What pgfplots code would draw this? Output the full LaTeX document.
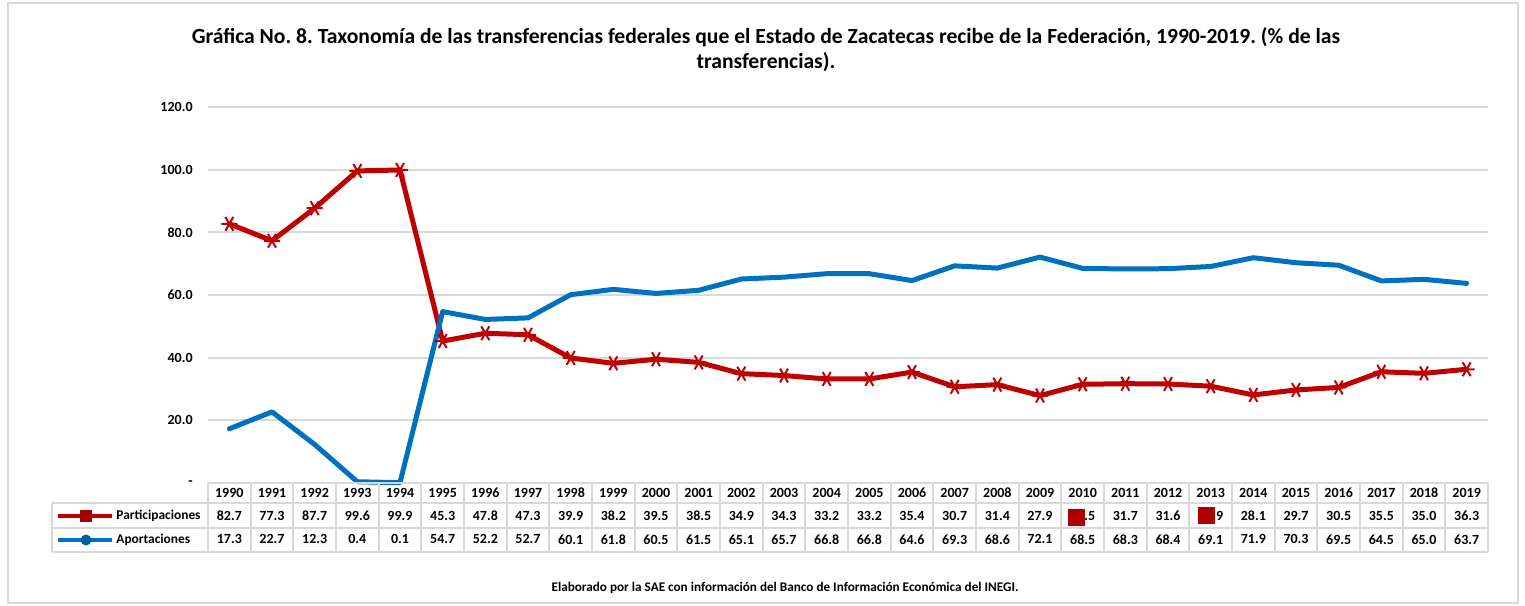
\documentclass[border=0pt]{standalone}
\usepackage{pgfplots}
\pgfplotsset{compat=1.18}
\usepackage{pgfplotstable}
\usepackage{fontspec}
\setmainfont{Carlito}
\frenchspacing
\definecolor{pred}{HTML}{C00000}
\definecolor{ablue}{HTML}{0070C0}
\definecolor{gridc}{HTML}{D9D9D9}

\pgfplotstableread{
year P A
1990 82.7 17.3
1991 77.3 22.7
1992 87.7 12.3
1993 99.6 0.4
1994 99.9 0.1
1995 45.3 54.7
1996 47.8 52.2
1997 47.3 52.7
1998 39.9 60.1
1999 38.2 61.8
2000 39.5 60.5
2001 38.5 61.5
2002 34.9 65.1
2003 34.3 65.7
2004 33.2 66.8
2005 33.2 66.8
2006 35.4 64.6
2007 30.7 69.3
2008 31.4 68.6
2009 27.9 72.1
2010 31.5 68.5
2011 31.7 68.3
2012 31.6 68.4
2013 30.9 69.1
2014 28.1 71.9
2015 29.7 70.3
2016 30.5 69.5
2017 35.5 64.5
2018 35.0 65.0
2019 36.3 63.7
}\data

\begin{document}
\begin{tikzpicture}[x=0.5pt,y=-0.5pt]
\path[use as bounding box] (0,0) rectangle (1525,605);
\draw[gridc, line width=1pt] (8,3) rectangle (1518,603);
\node[font=\bfseries\fontsize{10.8}{12.5}\selectfont, align=center] at (766,50)
  {Gráfica No. 8. Taxonomía de las transferencias federales que el Estado de Zacatecas recibe de la Federación, 1990-2019. (\% de las\\transferencias).};
\begin{axis}[
  at={(104pt,-241.5pt)}, anchor=south west,
  scale only axis, width=640pt, height=188pt,
  xmin=1989.5, xmax=2019.5, ymin=0, ymax=120,
  ytick={0,20,40,60,80,100,120},
  yticklabels={-,20.0,40.0,60.0,80.0,100.0,120.0},
  xtick=\empty,
  axis line style={draw=none},
  ymajorgrids, grid style={gridc, line width=0.9pt},
  major tick length=0pt,
  yticklabel style={font=\bfseries\fontsize{7}{8}\selectfont, inner sep=0pt, xshift=-7.5pt},
  clip=false,
  nodes near coords style={anchor=center, inner sep=0pt, font=\bfseries\fontsize{7}{8}\selectfont, black},
]
\addplot[pred, line width=2.5pt, line join=round, mark=asterisk, mark size=4pt,
  mark options={rotate=90, line width=1pt, solid}] table[x=year,y=P]{\data};
\addplot[ablue, line width=2.5pt, no marks, line cap=round, line join=round] table[x=year,y=A]{\data};
\addplot[draw=none, no marks, nodes near coords, point meta=explicit symbolic] table[x=year, y expr=-3.19, meta=year]{\data};
\addplot[draw=none, no marks, nodes near coords, point meta=explicit symbolic] table[x=year, y expr=-10.37, meta=P]{\data};
\addplot[draw=none, no marks, nodes near coords, point meta=explicit symbolic] table[x=year, y expr=-18.0, meta=A]{\data};
\end{axis}
% data table grid
\begin{scope}[gridc, line width=1pt]
\foreach \k in {0,...,30} {\draw (208+\k*42.67,483) -- (208+\k*42.67,552);}
\draw (208,483) -- (1488,483);
\draw (52,503) -- (1488,503);
\draw (52,528) -- (1488,528);
\draw (52,552) -- (1488,552);
\draw (52,503) -- (52,552);
\end{scope}
% legend keys
\draw[pred, line width=2pt] (58,515.5) -- (112,515.5);
\fill[pred!85!black] (80,509.5) rectangle (92,521.5);
\draw[ablue, line width=2pt] (58,540) -- (112,540);
\fill[ablue!85!black] (86,540) circle (5.5);
\node[anchor=west, inner sep=0pt, font=\bfseries\fontsize{6.7}{8}\selectfont] at (116,515.5) {Participaciones};
\node[anchor=west, inner sep=0pt, font=\bfseries\fontsize{6.7}{8}\selectfont] at (116,540) {Aportaciones};
% marker artifacts overlapping the table
\fill[pred!90!black] (1068,509) rectangle (1085,526);
\fill[pred!90!black] (1198,507) rectangle (1215,524);
\node[font=\bfseries\fontsize{6.6}{8}\selectfont] at (785,588) {Elaborado por la SAE con información del Banco de Información Económica del INEGI.};
\end{tikzpicture}
\end{document}
